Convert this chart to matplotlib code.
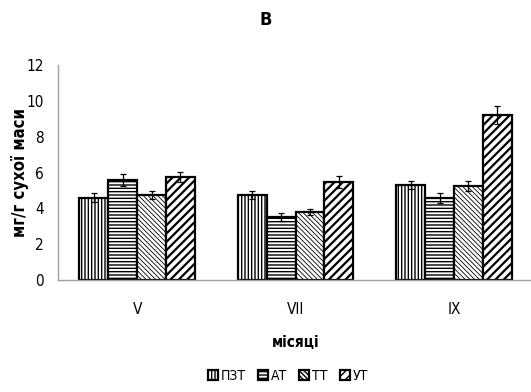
import matplotlib.pyplot as plt
import numpy as np

plt.rcParams['font.family'] = ['DejaVu Sans']
plt.rcParams['font.stretch'] = 'condensed'
plt.rcParams['hatch.linewidth'] = 1.0

months = ['V', 'VII', 'IX']
series = ['ПЗТ', 'АТ', 'ТТ', 'УТ']
pzt = [4.60, 4.77, 5.31]
at = [5.59, 3.54, 4.56]
tt = [4.75, 3.80, 5.25]
ut = [5.77, 5.47, 9.22]
pzt_err = [0.25, 0.22, 0.24]
at_err = [0.32, 0.22, 0.28]
tt_err = [0.24, 0.19, 0.30]
ut_err = [0.28, 0.33, 0.50]

values = [pzt, at, tt, ut]
errors = [pzt_err, at_err, tt_err, ut_err]
hatches = ['|||||', '-----', '\\\\\\\\\\\\\\', '////']
hatch_lw = [1.0, 1.0, 0.6, 1.6]

fig = plt.figure(figsize=(5.31, 3.92), dpi=100)
ax = fig.add_axes([0.109, 0.2857, 0.895, 0.548])

x = np.arange(len(months))
w = 0.182
for i, (vals, errs, h, name) in enumerate(zip(values, errors, hatches, series)):
    bars = ax.bar(x + (i - 1.5) * w, vals, w, color='white', edgecolor='black',
                  linewidth=1.6, hatch=h, label=name,
                  yerr=errs, error_kw=dict(ecolor='black', elinewidth=0.9,
                                           capsize=2.5, capthick=0.9))
    for p in bars.patches:
        if hasattr(p, 'set_hatch_linewidth'):
            p.set_hatch_linewidth(hatch_lw[i])

ax.set_xlim(-0.5, 2.5)
ax.set_ylim(0, 12)
ax.set_yticks(range(0, 13, 2))
ax.set_xticks(x)
ax.set_xticklabels(months)
ax.tick_params(axis='y', length=0, labelsize=11, pad=10)
ax.tick_params(axis='x', length=0, labelsize=11, pad=16)
for s in ['top', 'right']:
    ax.spines[s].set_visible(False)
for s in ['left', 'bottom']:
    ax.spines[s].set_color('#a0a0a0')
    ax.spines[s].set_linewidth(1.0)

ax.set_ylabel('мг/г сухої маси', fontsize=12, fontweight='bold', va='center')
ax.yaxis.set_label_coords(-0.08, 0.5)
ax.set_xlabel('місяці', fontsize=11, fontweight='bold', va='top')
ax.xaxis.set_label_coords(0.5, -0.256)
fig.text(0.5, 0.949, 'В', ha='center', va='center', fontsize=13, fontweight='bold')

fig.legend(loc='center', bbox_to_anchor=(0.542, 0.041), ncol=4, frameon=False,
           fontsize=10, handlelength=0.7, handleheight=0.7, handletextpad=0.2,
           columnspacing=0.9)

fig.savefig('out.png', dpi=100)
